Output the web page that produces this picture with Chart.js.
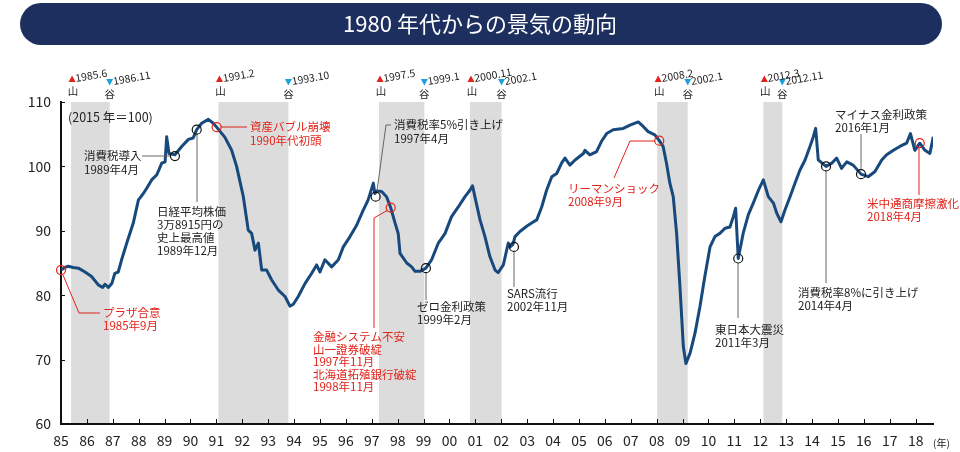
<!DOCTYPE html>
<html>
<head>
<meta charset="utf-8">
<script src="https://cdn.jsdelivr.net/npm/chart.js@4"></script>
<style>
  html, body { margin: 0; padding: 0; background: #fff; }
  #wrap { width: 960px; height: 452px; position: relative; }
</style>
</head>
<body>
<div id="wrap"><canvas id="grafica_keiki"></canvas></div>
<script>
// 景気動向指数 (2015年=100), 読み取り値
const fechas = [
  1985.0, 1985.15, 1985.28, 1985.47, 1985.67, 1985.93, 1986.18, 1986.44, 1986.61, 1986.7,
  1986.83, 1986.96, 1987.08, 1987.21, 1987.34, 1987.54, 1987.79, 1987.99, 1988.09, 1988.18,
  1988.31, 1988.5, 1988.7, 1988.89, 1989.02, 1989.08, 1989.17, 1989.4, 1989.66, 1989.92,
  1990.1, 1990.24, 1990.43, 1990.69, 1990.88, 1991.01, 1991.33, 1991.59, 1991.78, 1992.04,
  1992.23, 1992.36, 1992.49, 1992.62, 1992.75, 1992.94, 1993.13, 1993.39, 1993.65, 1993.84,
  1993.97, 1994.16, 1994.42, 1994.68, 1994.87, 1995.0, 1995.19, 1995.45, 1995.71, 1995.9,
  1996.16, 1996.42, 1996.67, 1996.86, 1997.06, 1997.12, 1997.2, 1997.38, 1997.57, 1997.73,
  1997.9, 1998.02, 1998.09, 1998.35, 1998.54, 1998.67, 1998.86, 1999.09, 1999.31, 1999.57,
  1999.83, 2000.08, 2000.34, 2000.6, 2000.79, 2000.89, 2000.98, 2001.18, 2001.37, 2001.56,
  2001.76, 2001.88, 2002.08, 2002.27, 2002.34, 2002.45, 2002.53, 2002.72, 2002.98, 2003.17,
  2003.37, 2003.56, 2003.75, 2003.95, 2004.14, 2004.33, 2004.46, 2004.65, 2004.85, 2005.17,
  2005.23, 2005.42, 2005.68, 2005.87, 2006.07, 2006.32, 2006.71, 2006.97, 2007.29, 2007.48,
  2007.67, 2007.93, 2008.1, 2008.25, 2008.38, 2008.51, 2008.64, 2008.77, 2008.9, 2009.03,
  2009.13, 2009.29, 2009.48, 2009.67, 2009.86, 2010.06, 2010.25, 2010.44, 2010.64, 2010.83,
  2010.96, 2011.05, 2011.15, 2011.34, 2011.54, 2011.73, 2011.93, 2012.12, 2012.31, 2012.51,
  2012.64, 2012.8, 2012.95, 2013.15, 2013.34, 2013.53, 2013.73, 2013.92, 2014.05, 2014.14,
  2014.24, 2014.54, 2014.76, 2014.95, 2015.14, 2015.34, 2015.59, 2015.89, 2016.17, 2016.43,
  2016.69, 2016.88, 2017.14, 2017.39, 2017.65, 2017.8, 2017.97, 2018.16, 2018.36, 2018.55,
  2018.68
];
const indice = [
  83.9, 84.3, 84.5, 84.3, 84.2, 83.6, 82.9, 81.6, 81.2, 81.7,
  81.2, 81.8, 83.4, 83.6, 85.5, 88.1, 91.2, 94.8, 95.3, 95.8,
  96.6, 97.9, 98.7, 100.5, 100.7, 104.6, 102.0, 101.8, 103.1, 104.2,
  104.4, 105.7, 106.7, 107.3, 106.7, 106.1, 104.5, 102.5, 100.0, 95.3,
  90.1, 89.6, 87.0, 88.1, 83.9, 83.9, 82.4, 80.8, 79.8, 78.3,
  78.6, 79.8, 81.8, 83.4, 84.7, 83.6, 85.5, 84.4, 85.5, 87.5,
  89.1, 90.9, 93.2, 94.8, 97.4, 95.8, 96.2, 96.1, 95.3, 93.6,
  91.2, 89.6, 86.5, 85.0, 84.4, 83.7, 83.7, 84.2, 85.5, 88.1,
  89.6, 92.2, 93.7, 95.3, 96.3, 97.0, 95.3, 91.7, 89.1, 86.0,
  83.9, 83.5, 84.7, 88.1, 87.5, 87.9, 89.1, 89.9, 90.7, 91.2,
  91.7, 93.7, 96.3, 98.4, 98.9, 100.5, 101.3, 100.2, 101.0, 102.0,
  102.5, 101.8, 102.3, 103.9, 105.1, 105.7, 105.9, 106.4, 106.9, 106.2,
  105.4, 104.9, 104.0, 103.1, 100.5, 97.4, 95.3, 89.6, 81.3, 72.0,
  69.4, 71.0, 74.1, 78.2, 82.9, 87.5, 89.1, 89.6, 90.4, 90.6,
  92.2, 93.5, 85.7, 89.6, 92.5, 94.3, 96.3, 97.9, 95.3, 94.3,
  92.7, 91.4, 93.2, 95.3, 97.4, 99.4, 101.0, 103.1, 104.6, 105.9,
  101.0, 100.0, 100.5, 101.3, 99.7, 100.7, 100.2, 98.8, 98.4, 99.2,
  101.0, 101.8, 102.5, 103.1, 103.6, 105.1, 102.5, 103.6, 102.5, 102.0,
  104.6
];

// 景気後退期 (山 → 谷)
const inicioRecesion = [1985.39, 1991.08, 1997.28, 2000.79, 2008.02, 2012.12];
const finRecesion    = [1986.88, 1993.78, 1999.03, 2002.01, 2009.2, 2012.85];
const etiquetaPico   = ['1985.6', '1991.2', '1997.5', '2000.11', '2008.2', '2012.3'];
const etiquetaValle  = ['1986.11', '1993.10', '1999.1', '2002.1', '2002.1', '2012.11'];

const xTicks = [];
for (let a = 1985; a <= 2018; a++) xTicks.push(a);
const yTicks = [60, 70, 80, 90, 100, 110];

// 出来事
const eventoFecha = [1985.0, 1989.4, 1990.24, 1991.01, 1997.15, 1997.73, 1999.09, 2002.49, 2008.1, 2011.15, 2014.54, 2015.89, 2018.16];
const eventoValor = [83.9, 101.6, 105.7, 106.1, 95.3, 93.6, 84.2, 87.5, 104.0, 85.7, 100.0, 98.8, 103.6];
const eventoTexto = [
  ['プラザ合意', '1985年9月'],
  ['消費税導入', '1989年4月'],
  ['日経平均株価', '3万8915円の', '史上最高値', '1989年12月'],
  ['資産バブル崩壊', '1990年代初頭'],
  ['消費税率5%引き上げ', '1997年4月'],
  ['金融システム不安', '山一證券破綻', '1997年11月', '北海道拓殖銀行破綻', '1998年11月'],
  ['ゼロ金利政策', '1999年2月'],
  ['SARS流行', '2002年11月'],
  ['リーマンショック', '2008年9月'],
  ['東日本大震災', '2011年3月'],
  ['消費税率8%に引き上げ', '2014年4月'],
  ['マイナス金利政策', '2016年1月'],
  ['米中通商摩擦激化', '2018年4月']
];
const eventoRojo = [true, false, false, true, false, true, false, false, true, false, false, false, true];

// 注記の配置 (px): 引出線, 文字位置, 行間
const layoutNotas = [
  { path: [[63, 275], [79, 313], [100, 313]], tx: 103, ty: 313, lh: 13 },
  { path: [[171, 156], [142, 156]], tx: 84, ty: 156, lh: 14 },
  { path: [[197, 134], [197, 202]], tx: 157, ty: 212, lh: 13 },
  { path: [[221, 127], [247, 127]], tx: 250, ty: 127, lh: 14 },
  { path: [[377, 191], [386, 125], [391, 125]], tx: 394, ty: 125, lh: 13.5 },
  { path: [[388, 210], [374, 218], [374, 328]], tx: 313, ty: 337, lh: 12.5 },
  { path: [[426, 272], [426, 300]], tx: 417, ty: 307, lh: 13 },
  { path: [[514, 251], [514, 287]], tx: 507, ty: 294, lh: 13 },
  { path: [[655, 141], [630, 141], [614, 178]], tx: 568, ty: 189, lh: 13 },
  { path: [[738, 263], [738, 318]], tx: 715, ty: 330, lh: 12.5 },
  { path: [[826, 171], [826, 283]], tx: 798, ty: 293, lh: 13 },
  { path: [[861, 170], [861, 134]], tx: 835, ty: 115, lh: 13 },
  { path: [[919, 148], [919, 195]], tx: 867, ty: 204, lh: 13 }
];

const JP = "'Noto Sans CJK JP', 'Noto Sans', sans-serif";
const ROJO = '#e2231a';
const AZUL_LINEA = '#17497c';
const GRIS_BANDA = '#dcdcdc';

const pluginFondo = {
  id: 'fondo',
  beforeDraw(chart) {
    const ctx = chart.ctx;
    const area = chart.chartArea;
    const x = chart.scales.x;
    ctx.save();
    ctx.fillStyle = '#fff';
    ctx.fillRect(0, 0, chart.width, chart.height);

    // cabecera
    ctx.fillStyle = '#1d2f5f';
    ctx.beginPath();
    ctx.roundRect(20, 3, 922, 42, 21);
    ctx.fill();
    ctx.fillStyle = '#fff';
    ctx.font = '22px ' + JP;
    ctx.textAlign = 'center';
    ctx.textBaseline = 'middle';
    ctx.fillText('1980 年代からの景気の動向', 480, 24);

    // bandas de recesión
    ctx.fillStyle = GRIS_BANDA;
    for (let i = 0; i < inicioRecesion.length; i++) {
      const x0 = x.getPixelForValue(inicioRecesion[i]);
      const x1 = x.getPixelForValue(finRecesion[i]);
      ctx.fillRect(x0, area.top, x1 - x0, area.bottom - area.top - 1);
    }
    ctx.restore();
  }
};

function triangulo(ctx, cx, cy, arriba, color) {
  ctx.fillStyle = color;
  ctx.beginPath();
  if (arriba) {
    ctx.moveTo(cx, cy - 3.5);
    ctx.lineTo(cx + 3.5, cy + 3);
    ctx.lineTo(cx - 3.5, cy + 3);
  } else {
    ctx.moveTo(cx - 3.5, cy - 3);
    ctx.lineTo(cx + 3.5, cy - 3);
    ctx.lineTo(cx, cy + 3.5);
  }
  ctx.closePath();
  ctx.fill();
}

const pluginNotas = {
  id: 'notas',
  afterDatasetsDraw(chart) {
    const ctx = chart.ctx;
    const x = chart.scales.x;
    const y = chart.scales.y;
    const area = chart.chartArea;
    ctx.save();

    // ticks interiores
    ctx.strokeStyle = '#111';
    ctx.lineWidth = 1;
    xTicks.forEach(a => {
      const px = Math.round(x.getPixelForValue(a)) + 0.5;
      ctx.beginPath();
      ctx.moveTo(px, area.bottom);
      ctx.lineTo(px, area.bottom - 5);
      ctx.stroke();
    });
    yTicks.forEach(v => {
      const py = Math.round(y.getPixelForValue(v)) + 0.5;
      ctx.beginPath();
      ctx.moveTo(area.left, py);
      ctx.lineTo(area.left + 4, py);
      ctx.stroke();
    });

    // etiquetas 山 / 谷
    ctx.textBaseline = 'alphabetic';
    for (let i = 0; i < inicioRecesion.length; i++) {
      const xp = x.getPixelForValue(inicioRecesion[i]) + 1;
      const xv = x.getPixelForValue(finRecesion[i]);
      triangulo(ctx, xp, 79, true, ROJO);
      triangulo(ctx, xv, 82, false, '#1ba1dc');
      ctx.fillStyle = '#222';
      ctx.font = '10.5px ' + JP;
      ctx.textAlign = 'left';
      ctx.save();
      ctx.translate(xp + 4, 82);
      ctx.rotate(-0.17);
      ctx.fillText(etiquetaPico[i], 0, 0);
      ctx.restore();
      ctx.save();
      ctx.translate(xv + 4, 85);
      ctx.rotate(-0.17);
      ctx.fillText(etiquetaValle[i], 0, 0);
      ctx.restore();
      ctx.font = '10.5px ' + JP;
      ctx.textAlign = 'center';
      ctx.fillText('山', xp + 1, 95);
      ctx.fillText('谷', xv, 98);
    }

    // (2015 年＝100)
    ctx.fillStyle = '#222';
    ctx.font = '12.5px ' + JP;
    ctx.textAlign = 'left';
    ctx.textBaseline = 'middle';
    ctx.fillText('(2015 年＝100)', 68, 117);

    // (年)
    ctx.font = '10px ' + JP;
    ctx.fillText('(年)', 933, 443);

    // notas de eventos
    for (let i = 0; i < eventoFecha.length; i++) {
      const lay = layoutNotas[i];
      const color = eventoRojo[i] ? ROJO : '#666';
      const cx = x.getPixelForValue(eventoFecha[i]);
      const cy = y.getPixelForValue(eventoValor[i]);
      ctx.strokeStyle = color;
      ctx.lineWidth = 1;
      ctx.beginPath();
      ctx.moveTo(lay.path[0][0], lay.path[0][1]);
      for (let k = 1; k < lay.path.length; k++) ctx.lineTo(lay.path[k][0], lay.path[k][1]);
      ctx.stroke();

      ctx.strokeStyle = eventoRojo[i] ? ROJO : '#111';
      ctx.lineWidth = 1.2;
      ctx.beginPath();
      ctx.arc(cx, cy, 4.5, 0, Math.PI * 2);
      ctx.stroke();

      ctx.fillStyle = eventoRojo[i] ? ROJO : '#222';
      ctx.font = '11.5px ' + JP;
      ctx.textAlign = 'left';
      ctx.textBaseline = 'middle';
      eventoTexto[i].forEach((t, k) => ctx.fillText(t, lay.tx, lay.ty + k * lay.lh));
    }
    ctx.restore();
  }
};

const ctxKeiki = document.getElementById('grafica_keiki').getContext('2d');
const chartKeiki = new Chart(ctxKeiki, {
  type: 'line',
  data: {
    datasets: [{
      data: fechas.map((f, i) => ({ x: f, y: indice[i] })),
      borderColor: AZUL_LINEA,
      borderWidth: 3,
      pointRadius: 0,
      tension: 0,
      borderJoinStyle: 'round',
      fill: false
    }]
  },
  options: {
    responsive: true,
    maintainAspectRatio: false,
    animation: false,
    layout: { padding: { top: 102, right: 27, bottom: 0, left: 0 } },
    scales: {
      x: {
        type: 'linear',
        min: 1985,
        max: 2018.67,
        afterFit: (s) => { s.height = 28; },
        afterBuildTicks: (s) => { s.ticks = xTicks.map(v => ({ value: v })); },
        grid: { display: false, drawTicks: false },
        border: { display: true, color: '#111', width: 2 },
        ticks: {
          autoSkip: false,
          maxRotation: 0,
          padding: 8,
          color: '#222',
          font: { family: JP, size: 14 },
          callback: (v) => String(v).slice(2)
        }
      },
      y: {
        min: 60,
        max: 110,
        afterFit: (s) => { s.width = 61; },
        afterBuildTicks: (s) => { s.ticks = yTicks.map(v => ({ value: v })); },
        grid: { display: false, drawTicks: false },
        border: { display: true, color: '#111', width: 2 },
        ticks: {
          padding: 10,
          color: '#222',
          font: { family: JP, size: 14 }
        }
      }
    },
    plugins: {
      legend: { display: false },
      tooltip: { enabled: false }
    }
  },
  plugins: [pluginFondo, pluginNotas]
});
</script>
</body>
</html>
